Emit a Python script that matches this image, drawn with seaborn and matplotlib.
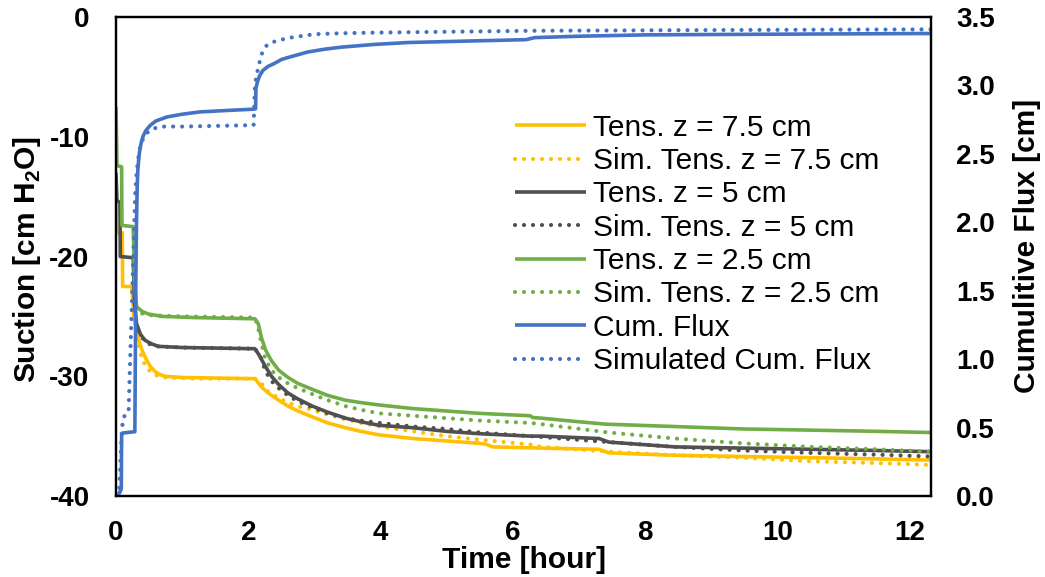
import numpy as np
import matplotlib
matplotlib.use("Agg")
import matplotlib.pyplot as plt
import seaborn as sns
from matplotlib.lines import Line2D
from matplotlib.ticker import FormatStrFormatter

# ---- measured tensiometer suction [cm H2O] ----
tens75_t = [0, 0.015, 0.095, 0.10, 0.24, 0.27, 0.31, 0.36, 0.40, 0.44, 0.52, 0.59, 0.66, 0.74, 1.0,
            1.5, 2.1, 2.2, 2.3, 2.46, 2.6, 2.75, 2.97, 3.2, 3.47, 3.7, 3.98, 4.49, 4.99, 5.5, 5.6,
            5.7, 6.43, 7.3, 7.45, 8.45, 9.47, 10.5, 11.5, 12.32]
tens75_v = [-15.5, -18.0, -18.0, -22.5, -22.5, -25.0, -26.1, -27.3, -27.9, -28.4, -29.2, -29.6,
            -29.85, -30.0, -30.1, -30.15, -30.2, -30.9, -31.4, -32.0, -32.5, -32.9, -33.4, -33.9,
            -34.3, -34.6, -34.9, -35.2, -35.4, -35.6, -35.7, -35.9, -36.0, -36.1, -36.4, -36.6,
            -36.7, -36.8, -36.9, -37.0]

tens5_t = [0, 0.015, 0.06, 0.065, 0.26, 0.28, 0.31, 0.37, 0.44, 0.54, 0.64, 1.0, 2.1, 2.16, 2.26,
           2.35, 2.46, 2.6, 2.75, 2.97, 3.2, 3.47, 3.7, 3.98, 4.49, 4.99, 5.5, 6.26, 6.43, 7.3,
           7.45, 8.45, 9.47, 10.5, 11.5, 12.32]
tens5_v = [-13.0, -15.3, -15.5, -20.0, -20.1, -24.0, -25.6, -26.5, -27.0, -27.3, -27.5, -27.6,
           -27.7, -28.2, -29.2, -30.0, -30.7, -31.4, -31.9, -32.5, -33.0, -33.5, -33.8, -34.1,
           -34.3, -34.6, -34.8, -35.0, -35.0, -35.2, -35.5, -35.9, -36.0, -36.1, -36.2, -36.3]

tens25_t = [0, 0.015, 0.085, 0.09, 0.26, 0.28, 0.31, 0.40, 0.49, 0.7, 1.2, 2.1, 2.15, 2.2, 2.26,
            2.35, 2.46, 2.6, 2.75, 2.97, 3.2, 3.47, 3.7, 3.98, 4.49, 4.99, 5.5, 6.26, 6.3, 6.43,
            6.9, 7.4, 8.45, 9.47, 10.5, 11.5, 12.32]
tens25_v = [-7.5, -12.4, -12.5, -17.4, -17.5, -22.0, -24.2, -24.6, -24.8, -25.0, -25.1, -25.2,
            -25.6, -26.8, -27.8, -28.7, -29.5, -30.1, -30.6, -31.1, -31.6, -32.0, -32.2, -32.4,
            -32.7, -32.9, -33.1, -33.3, -33.45, -33.5, -33.75, -34.0, -34.2, -34.4, -34.5, -34.6,
            -34.7]

# ---- simulated suction [cm H2O] ----
sim75_t = [0.30, 0.33, 0.38, 0.45, 0.55, 0.65, 0.75, 1.2, 2.1, 2.2, 2.26, 2.35, 2.46, 2.6, 2.75,
           2.97, 3.2, 3.47, 3.7, 3.98, 4.49, 4.99, 5.5, 6.26, 6.43, 7.45, 8.45, 9.47, 10.5, 11.5,
           12.32]
sim75_v = [-26.0, -27.0, -28.3, -29.2, -29.8, -30.0, -30.1, -30.2, -30.2, -30.6, -31.1, -31.5,
           -31.8, -32.2, -32.5, -32.8, -33.2, -33.6, -33.9, -34.2, -34.6, -35.0, -35.3, -35.7,
           -35.9, -36.3, -36.6, -36.8, -37.1, -37.25, -37.4]

sim5_t = [0.30, 0.35, 0.45, 0.6, 1.0, 2.1, 2.18, 2.26, 2.35, 2.46, 2.6, 2.75, 2.97, 3.2, 3.47,
          3.7, 3.98, 4.49, 4.99, 5.5, 6.26, 7.45, 8.45, 9.47, 10.5, 11.5, 12.32]
sim5_v = [-25.5, -26.4, -27.2, -27.5, -27.6, -27.7, -28.3, -29.6, -30.4, -31.0, -31.6, -32.1,
          -32.6, -33.1, -33.5, -33.7, -33.9, -34.2, -34.4, -34.7, -35.0, -35.5, -35.9, -36.2,
          -36.4, -36.55, -36.7]

sim25_t = [0.30, 0.35, 0.5, 1.0, 2.1, 2.15, 2.2, 2.26, 2.35, 2.46, 2.6, 2.75, 2.97, 3.2, 3.47,
           3.7, 3.98, 4.49, 4.99, 5.5, 6.26, 6.43, 7.45, 8.45, 9.47, 10.5, 11.5, 12.32]
sim25_v = [-24.3, -24.7, -24.9, -25.0, -25.1, -26.0, -27.3, -28.6, -29.5, -30.1, -30.6, -31.0,
           -31.5, -32.0, -32.5, -32.8, -33.1, -33.3, -33.5, -33.7, -33.9, -34.0, -34.7, -35.2,
           -35.6, -35.9, -36.1, -36.3]

# ---- cumulative flux [cm] ----
flux_t = [0, 0.04, 0.08, 0.085, 0.10, 0.285, 0.295, 0.30, 0.31, 0.32, 0.33, 0.345, 0.36, 0.385,
          0.41, 0.45, 0.52, 0.6, 0.77, 1.0, 1.27, 1.7, 2.08, 2.11, 2.115, 2.14, 2.17, 2.22, 2.3,
          2.39, 2.5, 2.64, 2.9, 3.15, 3.4, 3.9, 4.41, 5.42, 6.2, 6.33, 7.0, 8.0, 10.0, 12.32]
flux_v = [0.0, 0.01, 0.05, 0.44, 0.46, 0.47, 1.2, 1.6, 2.0, 2.25, 2.38, 2.47, 2.53, 2.59, 2.63,
          2.67, 2.71, 2.74, 2.77, 2.79, 2.807, 2.818, 2.827, 2.83, 2.98, 3.03, 3.07, 3.11, 3.14,
          3.16, 3.19, 3.21, 3.245, 3.265, 3.28, 3.30, 3.314, 3.326, 3.335, 3.35, 3.36, 3.37,
          3.375, 3.38]

simflux_t = [0, 0.05, 0.09, 0.12, 0.19, 0.29, 0.31, 0.33, 0.36, 0.40, 0.45, 0.50, 0.60, 0.70, 1.0,
             2.08, 2.10, 2.12, 2.15, 2.18, 2.21, 2.25, 2.29, 2.39, 2.5, 2.64, 3.0, 3.5, 4.0, 6.33,
             9.0, 12.32]
simflux_v = [0.0, 0.05, 0.5, 0.58, 0.61, 2.2, 2.35, 2.45, 2.54, 2.6, 2.64, 2.67, 2.69, 2.70, 2.70,
             2.71, 3.0, 3.06, 3.13, 3.19, 3.24, 3.275, 3.30, 3.32, 3.335, 3.35, 3.375, 3.383, 3.387,
             3.40, 3.405, 3.41]

labels = ["Tens. z = 7.5 cm", "Sim. Tens. z = 7.5 cm", "Tens. z = 5 cm", "Sim. Tens. z = 5 cm",
          "Tens. z = 2.5 cm", "Sim. Tens. z = 2.5 cm", "Cum. Flux", "Simulated Cum. Flux"]

YELLOW = "#FFC000"
GRAY = "#505050"
GREEN = "#70AD47"
BLUE = "#4472C4"

sns.set_theme(style="white")
plt.rcParams["font.family"] = ["Liberation Sans", "DejaVu Sans"]
plt.rcParams["mathtext.fontset"] = "custom"
plt.rcParams["mathtext.rm"] = "Liberation Sans:bold"
plt.rcParams["mathtext.bf"] = "Liberation Sans:bold"
plt.rcParams["axes.unicode_minus"] = False
for key in ("text.color", "axes.labelcolor", "xtick.color", "ytick.color"):
    plt.rcParams[key] = "black"

fig = plt.figure(figsize=(10.45, 5.77), dpi=100)
ax = fig.add_axes([0.111, 0.1404, 0.780, 0.830])
ax2 = ax.twinx()

solid_kw = dict(linewidth=2.6, solid_capstyle="butt", solid_joinstyle="round")
dot_kw = dict(linewidth=3.0, linestyle=(0, (0.01, 2.15)), dash_capstyle="round")

series = [
    (ax, tens75_t, tens75_v, YELLOW, solid_kw),
    (ax, sim75_t, sim75_v, YELLOW, dot_kw),
    (ax, tens5_t, tens5_v, GRAY, solid_kw),
    (ax, sim5_t, sim5_v, GRAY, dot_kw),
    (ax, tens25_t, tens25_v, GREEN, solid_kw),
    (ax, sim25_t, sim25_v, GREEN, dot_kw),
    (ax2, flux_t, flux_v, BLUE, solid_kw),
    (ax2, simflux_t, simflux_v, BLUE, dot_kw),
]
handles = []
for (a, t, v, c, kw), lab in zip(series, labels):
    sns.lineplot(x=np.asarray(t), y=np.asarray(v), ax=a, color=c, estimator=None, sort=False, **kw)
    handles.append(Line2D([], [], color=c, **kw))

ax.set_xlim(0, 12.32)
ax.set_ylim(-40, 0)
ax2.set_ylim(0, 3.5)
ax.set_xticks([0, 2, 4, 6, 8, 10, 12])
ax.set_yticks([-40, -30, -20, -10, 0])
ax2.set_yticks(np.arange(0, 3.51, 0.5))
ax2.yaxis.set_major_formatter(FormatStrFormatter("%.1f"))

TICK_FS = 20
ax.tick_params(axis="x", length=0, pad=17, labelsize=TICK_FS)
ax.tick_params(axis="y", length=0, pad=19, labelsize=TICK_FS)
ax2.tick_params(axis="y", length=0, pad=18, labelsize=TICK_FS)
for lbl in ax.get_xticklabels() + ax.get_yticklabels() + ax2.get_yticklabels():
    lbl.set_fontweight("bold")

LABEL_FS = 21.5
ax.set_xlabel("Time [hour]", fontsize=LABEL_FS, fontweight="bold")
ax.set_ylabel(r"Suction [cm H$_2$O]", fontsize=LABEL_FS, fontweight="bold")
ax2.set_ylabel("Cumulitive Flux [cm]", fontsize=LABEL_FS, fontweight="bold")
ax.xaxis.set_label_coords(0.5, -0.104)
ax.yaxis.set_label_coords(-0.090, 0.493)
ax2.yaxis.set_label_coords(1.100, 0.522)

for a in (ax, ax2):
    for s in a.spines.values():
        s.set_color("black")
        s.set_linewidth(1.6)
ax.grid(False)
ax2.grid(False)

ax2.legend(handles, labels, loc="upper left", bbox_to_anchor=(0.49, 0.7985), frameon=False,
           fontsize=21.5, handlelength=2.35, handletextpad=0.25, labelspacing=0.18,
           borderaxespad=0, borderpad=0)

fig.savefig("out.png", dpi=100)
